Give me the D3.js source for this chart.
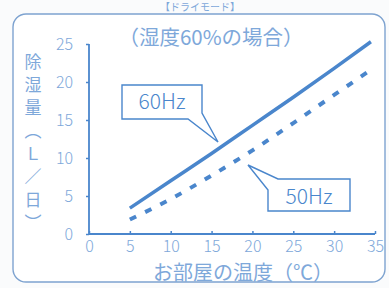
<!DOCTYPE html>
<html>
<head>
<meta charset="utf-8">
<script src="https://cdn.jsdelivr.net/npm/d3@7/dist/d3.min.js"></script>
<style>
  html, body { margin: 0; padding: 0; background: #fafbfc; }
  svg { display: block; }
  text { font-family: "Noto Sans CJK JP", "Noto Sans", sans-serif; }
</style>
</head>
<body>
<div id="chart"></div>
<script>
// data
const temps60 = [5, 10, 15, 20, 25, 30, 34.5]
const vals60 = [3.4, 7.0, 10.6, 14.3, 18.0, 21.8, 25.3]
const temps50 = [5, 10, 15, 20, 25, 30, 34.5]
const vals50 = [1.9, 4.6, 7.7, 11.0, 14.6, 18.3, 21.6]
const xTicks = [0, 5, 10, 15, 20, 25, 30, 35]
const yTicks = [0, 5, 10, 15, 20, 25]
const seriesLabels = ["60Hz", "50Hz"]

const W = 389, H = 288
const lineBlue = "#4a86cc"
const textBlue = "#7ea8da"

const svg = d3.select("#chart").append("svg")
  .attr("width", W).attr("height", H)

// frame
svg.append("rect")
  .attr("x", 13).attr("y", 14).attr("width", 372).attr("height", 268)
  .attr("rx", 13).attr("ry", 13)
  .attr("fill", "#ffffff").attr("stroke", "#7ea3d0").attr("stroke-width", 1.4)

// small heading at the very top
svg.append("text")
  .attr("x", 200).attr("y", 11).attr("text-anchor", "middle")
  .attr("font-size", 10).attr("fill", textBlue)
  .text("【ドライモード】")

const x = d3.scaleLinear().domain([0, 35]).range([89, 375])
const y = d3.scaleLinear().domain([0, 25]).range([234, 44])

// axes
const xAxis = svg.append("g").attr("transform", "translate(0," + y(0) + ")")
  .call(d3.axisBottom(x).tickValues(xTicks).tickSize(-3).tickPadding(7))
const yAxis = svg.append("g").attr("transform", "translate(" + x(0) + ",0)")
  .call(d3.axisLeft(y).tickValues(yTicks).tickSize(3).tickPadding(13))

;[xAxis, yAxis].forEach(g => {
  g.select(".domain").attr("stroke", lineBlue).attr("stroke-width", 1.8)
  g.selectAll(".tick line").attr("stroke", lineBlue).attr("stroke-width", 1.5)
  g.selectAll(".tick text").attr("fill", textBlue).attr("font-size", 16)
    .attr("font-family", "'Noto Sans', sans-serif").attr("font-weight", 300)
})
xAxis.select(".domain").attr("d", "M" + x(0) + ",0H" + x(35))
yAxis.select(".domain").attr("d", "M0," + y(25) + "V" + y(0))

// lines
const line = d3.line().x(d => x(d[0])).y(d => y(d[1])).curve(d3.curveMonotoneX)

svg.append("path")
  .datum(temps60.map((t, i) => [t, vals60[i]]))
  .attr("d", line).attr("fill", "none")
  .attr("stroke", lineBlue).attr("stroke-width", 3.5)

svg.append("path")
  .datum(temps50.map((t, i) => [t, vals50[i]]))
  .attr("d", line).attr("fill", "none")
  .attr("stroke", lineBlue).attr("stroke-width", 4)
  .attr("stroke-dasharray", "7,10")

// callouts
svg.append("path")
  .attr("d", "M122,85H202V113L218,142L188,119H122Z")
  .attr("fill", "#ffffff").attr("stroke", lineBlue).attr("stroke-width", 1.4)
svg.append("text")
  .attr("x", 162).attr("y", 109).attr("text-anchor", "middle")
  .attr("font-size", 21).attr("fill", lineBlue)
  .attr("font-family", "'Noto Sans', sans-serif").attr("font-weight", 300)
  .text(seriesLabels[0])

svg.append("path")
  .attr("d", "M268,190L248,165L278,179H350V211H268Z")
  .attr("fill", "#ffffff").attr("stroke", lineBlue).attr("stroke-width", 1.4)
svg.append("text")
  .attr("x", 309).attr("y", 204).attr("text-anchor", "middle")
  .attr("font-size", 21).attr("fill", lineBlue)
  .attr("font-family", "'Noto Sans', sans-serif").attr("font-weight", 300)
  .text(seriesLabels[1])

// titles
svg.append("text")
  .attr("x", 211).attr("y", 45).attr("text-anchor", "middle")
  .attr("font-size", 20.5).attr("fill", textBlue)
  .text("（湿度60%の場合）")

svg.append("text")
  .attr("x", 243).attr("y", 280).attr("text-anchor", "middle")
  .attr("font-size", 20).attr("fill", textBlue)
  .text("お部屋の温度（℃）")

svg.append("text")
  .attr("x", 33).attr("y", 53)
  .attr("font-size", 17).attr("fill", textBlue)
  .attr("letter-spacing", 6)
  .style("writing-mode", "vertical-rl")
  .text("除湿量（Ｌ／日）")
</script>
</body>
</html>
